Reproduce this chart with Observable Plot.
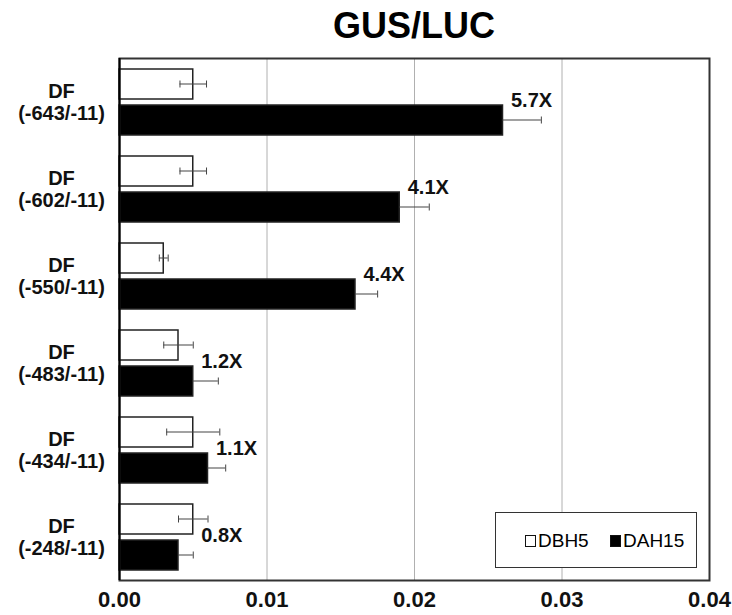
<!DOCTYPE html>
<html>
<head>
<meta charset="utf-8">
<script src="https://cdn.jsdelivr.net/npm/d3@7"></script>
<script src="https://cdn.jsdelivr.net/npm/@observablehq/plot@0.6"></script>
<style>
  html, body { margin: 0; padding: 0; background: #fff; }
  #wrap { position: relative; width: 732px; height: 615px; font-family: "Liberation Sans", Arial, sans-serif; }
  #title { position: absolute; left: 119px; width: 590px; top: 6px; text-align: center; font-size: 36px; font-weight: bold; line-height: 40px; color: #000; }
  #chart { position: absolute; left: 0; top: 50px; }
  #legend { position: absolute; left: 495px; top: 512px; width: 200px; height: 54px; border: 1.5px solid #333; background: #fff;
            font-family: "Liberation Sans Narrow", "Liberation Sans", sans-serif; font-size: 19px; color: #000; }
  .item { position: absolute; top: 17px; display: flex; align-items: center; }
  .sw { width: 11px; height: 12px; border: 1px solid #111; margin-right: 2px; box-sizing: border-box; }
</style>
</head>
<body>
<div id="wrap">
  <div id="title">GUS/LUC</div>
  <div id="chart"></div>
  <div id="legend">
    <div class="item" style="left:29px"><div class="sw" style="background:#fff"></div><span>DBH5</span></div>
    <div class="item" style="left:114px"><div class="sw" style="background:#000"></div><span>DAH15</span></div>
  </div>
</div>
<script>
const promoters = ["-643/-11", "-602/-11", "-550/-11", "-483/-11", "-434/-11", "-248/-11"];
const dbh5 = [0.005, 0.005, 0.003, 0.004, 0.005, 0.005];
const dbh5Err = [0.0009, 0.0009, 0.0003, 0.001, 0.0018, 0.001];
const dah15 = [0.026, 0.019, 0.016, 0.005, 0.006, 0.004];
const dah15Err = [0.0026, 0.002, 0.0015, 0.0017, 0.0012, 0.001];
const folds = ["5.7X", "4.1X", "4.4X", "1.2X", "1.1X", "0.8X"];
const xTicks = [0, 0.01, 0.02, 0.03, 0.04];

const labels = promoters.map(p => `DF\n(${p})`);
const rows = labels.map((c, i) => ({
  cat: c, w: dbh5[i], we: dbh5Err[i], b: dah15[i], be: dah15Err[i], fold: folds[i]
}));

const chart = Plot.plot({
  width: 732,
  height: 565,
  marginTop: 8,
  marginBottom: 35,
  marginLeft: 119,
  marginRight: 23,
  style: { fontFamily: "Liberation Sans, Arial, sans-serif", color: "#000", background: "#fff" },
  x: { domain: [0, 0.04], axis: null },
  y: { domain: labels, padding: 0, axis: null },
  marks: [
    Plot.ruleX(xTicks.slice(1, -1), { x: d => d, stroke: "#b0b0b0", strokeWidth: 1 }),
    // DBH5 bars (white)
    Plot.barX(rows, { y: "cat", x1: 0, x2: "w", insetTop: 11, insetBottom: 46, fill: "#fff", stroke: "#222", strokeWidth: 1.5 }),
    // DAH15 bars (black)
    Plot.barX(rows, { y: "cat", x1: 0, x2: "b", insetTop: 47, insetBottom: 10, fill: "#000", stroke: "#222", strokeWidth: 1.5 }),
    // error lines
    Plot.barX(rows, { y: "cat", x1: d => d.w - d.we, x2: d => d.w + d.we, insetTop: 25.5, insetBottom: 60.5, fill: "#444" }),
    Plot.barX(rows, { y: "cat", x1: d => d.b, x2: d => d.b + d.be, insetTop: 61.5, insetBottom: 24.5, fill: "#444" }),
    // caps
    Plot.tickX(rows, { y: "cat", x: d => d.w - d.we, insetTop: 22.5, insetBottom: 57.5, stroke: "#444", strokeWidth: 1 }),
    Plot.tickX(rows, { y: "cat", x: d => d.w + d.we, insetTop: 22.5, insetBottom: 57.5, stroke: "#444", strokeWidth: 1 }),
    Plot.tickX(rows, { y: "cat", x: d => d.b + d.be, insetTop: 58.5, insetBottom: 21.5, stroke: "#444", strokeWidth: 1 }),
    Plot.frame({ stroke: "#333", strokeWidth: 2 }),
    Plot.ruleX([0], { stroke: "#000", strokeWidth: 2 }),
    // fold-change labels
    Plot.text(rows, { y: "cat", x: d => Math.max(d.w, d.b), text: "fold", dx: 8, dy: -1, textAnchor: "start", fontSize: 20, fontWeight: "bold", fill: "#111" }),
    // category labels
    Plot.text(labels, { y: d => d, text: d => d, frameAnchor: "left", dx: -58, textAnchor: "middle", lineHeight: 1.1, fontSize: 20, fontWeight: "bold", fill: "#111" }),
    // x tick labels
    Plot.text(xTicks, { x: d => d, text: d => d3.format(".2f")(d), frameAnchor: "bottom", dy: 26, textAnchor: "middle", fontSize: 22, fontWeight: "bold", fill: "#111" })
  ]
});
document.getElementById("chart").appendChild(chart);
</script>
</body>
</html>
